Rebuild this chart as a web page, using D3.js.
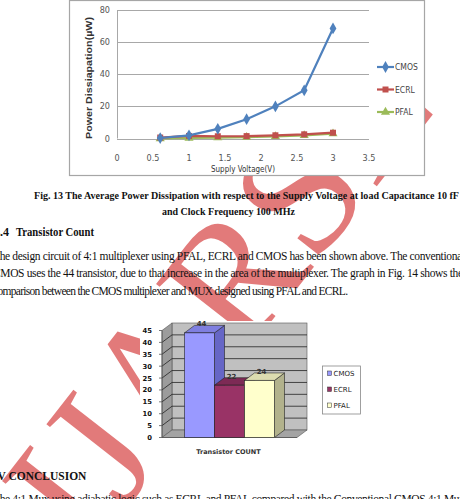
<!DOCTYPE html>
<html lang="en">
<head>
<meta charset="UTF-8">
<title>Fig 13 / Fig 14</title>
<script src="https://cdn.jsdelivr.net/npm/d3@7"></script>
<style>
  body { margin: 0; background: white; }
  svg { display: block; }
  .serif { font-family: "Liberation Serif", "Times New Roman", serif; fill: #111; }
  .cond { font-family: "DejaVu Sans Condensed", "DejaVu Sans", sans-serif; font-stretch: condensed; fill: #555; }
  .tah { font-family: "DejaVu Sans", Verdana, sans-serif; fill: #111; }
</style>
</head>
<body>
<svg id="page" width="460" height="499"></svg>
<script>
// ---- Fig. 13 data (power vs supply voltage) ----
const voltage = [0.6, 1, 1.4, 1.8, 2.2, 2.6, 3];
const cmos = [0.3, 2, 6, 12, 20, 30, 68.5];
const ecrl = [0.6, 1.6, 1.4, 1.5, 2, 2.6, 3.6];
const pfal = [0, 0.3, 0.5, 0.8, 1.3, 1.9, 3];
const xTicks = [0, 0.5, 1, 1.5, 2, 2.5, 3, 3.5];
const yTicks = [0, 20, 40, 60, 80];

// ---- Fig. 14 data (transistor count) ----
const techs = ["CMOS", "ECRL", "PFAL"];
const counts = [44, 22, 24];
const countTicks = [0, 5, 10, 15, 20, 25, 30, 35, 40, 45];

// ---- page text ----
const caption = ["Fig. 13 The Average Power Dissipation with respect to the Supply Voltage at load Capacitance 10 fF",
                 "and Clock Frequency 100 MHz"];
const para = ["The design circuit of 4:1 multiplexer using PFAL, ECRL and CMOS has been shown above. The conventional",
              "CMOS uses the 44 transistor, due to that increase in the area of the multiplexer. The graph in Fig. 14 shows the",
              "comparison between the CMOS multiplexer and MUX designed using PFAL and ECRL."];
const lastLine = "The 4:1 Mux using adiabatic logic such as ECRL and PFAL compared with the Conventional CMOS 4:1 Mux";

const svg = d3.select("#page");

// ================= watermark (sits under text and figures) =================
svg.append("text").attr("transform", "translate(88,556) rotate(-52)")
  .attr("font-family", "Liberation Serif, serif").attr("font-size", 174)
  .attr("fill", "rgb(210,50,50)").attr("fill-opacity", 0.65).text("IJARSE");

// ================= line chart =================
const fig13 = svg.append("g");
fig13.append("rect").attr("x", 69.5).attr("y", 0.5).attr("width", 355).attr("height", 175)
  .attr("fill", "white").attr("stroke", "#a6a6a6").attr("stroke-width", 1.2);

const x = d3.scaleLinear([0, 3.5], [117, 369]);
const y = d3.scaleLinear([0, 80], [138.5, 10]);

fig13.append("g").selectAll("line").data(yTicks).join("line")
  .attr("x1", x(0)).attr("x2", x(3.5))
  .attr("y1", d => Math.round(y(d)) + 0.5).attr("y2", d => Math.round(y(d)) + 0.5)
  .attr("stroke", "#a8a8a8");
fig13.append("line").attr("x1", x(0) + 0.5).attr("x2", x(0) + 0.5).attr("y1", y(80)).attr("y2", y(0))
  .attr("stroke", "#a8a8a8");

fig13.append("g").selectAll("text").data(yTicks).join("text").attr("class", "cond")
  .attr("x", 110).attr("y", d => y(d) + 3).attr("text-anchor", "end").attr("font-size", 9)
  .text(d => d);
fig13.append("g").selectAll("text").data(xTicks).join("text").attr("class", "cond")
  .attr("x", d => x(d)).attr("y", 161).attr("text-anchor", "middle").attr("font-size", 9)
  .text(d => d);

fig13.append("text").attr("class", "cond").attr("x", 243).attr("y", 172).attr("text-anchor", "middle")
  .attr("font-size", 9).attr("textLength", 64).attr("lengthAdjust", "spacingAndGlyphs")
  .style("fill", "#333").text("Supply Voltage(V)");
fig13.append("text").attr("transform", "translate(92,78) rotate(-90)").attr("text-anchor", "middle")
  .attr("font-family", "Liberation Sans, Arial, sans-serif").attr("font-weight", "bold").attr("font-size", 9)
  .attr("textLength", 122).attr("lengthAdjust", "spacingAndGlyphs").attr("fill", "#333")
  .text("Power Dissiapation(\u00b5W)");

const series = [
  { name: "CMOS", vals: cmos, color: "#4f81bd", shape: d3.symbolDiamond, size: 40 },
  { name: "ECRL", vals: ecrl, color: "#c0504d", shape: d3.symbolSquare, size: 36 },
  { name: "PFAL", vals: pfal, color: "#9bbb59", shape: d3.symbolTriangle, size: 36 }
];
const line = d3.line().x((d, i) => x(voltage[i])).y(d => y(d));

series.slice().reverse().forEach(s => {
  fig13.append("path").attr("d", line(s.vals)).attr("fill", "none")
    .attr("stroke", s.color).attr("stroke-width", 2.2);
  fig13.append("g").selectAll("path").data(s.vals).join("path")
    .attr("transform", (d, i) => `translate(${x(voltage[i])},${y(d)})`)
    .attr("d", d3.symbol(s.shape, s.size)).attr("fill", s.color);
});

series.forEach((s, i) => {
  const ly = 67 + i * 22.5;
  fig13.append("line").attr("x1", 377).attr("x2", 394).attr("y1", ly).attr("y2", ly)
    .attr("stroke", s.color).attr("stroke-width", 2.2);
  fig13.append("path").attr("transform", `translate(385.5,${ly})`)
    .attr("d", d3.symbol(s.shape, s.size)).attr("fill", s.color);
  fig13.append("text").attr("class", "cond").attr("x", 395).attr("y", ly + 3).attr("font-size", 8.5)
    .style("fill", "#444").text(s.name);
});

// ================= page text =================
svg.append("text").attr("class", "serif").attr("x", 34).attr("y", 198.5).attr("font-weight", "bold")
  .attr("font-size", 10.5).attr("textLength", 425).attr("lengthAdjust", "spacingAndGlyphs").text(caption[0]);
svg.append("text").attr("class", "serif").attr("x", 228.5).attr("y", 214.5).attr("font-weight", "bold")
  .attr("font-size", 10.5).attr("text-anchor", "middle").attr("textLength", 133)
  .attr("lengthAdjust", "spacingAndGlyphs").text(caption[1]);

svg.append("text").attr("class", "serif").attr("x", 9).attr("y", 236).attr("font-weight", "bold")
  .attr("font-size", 12).attr("text-anchor", "end").text("4.4");
svg.append("text").attr("class", "serif").attr("x", 16).attr("y", 236).attr("font-weight", "bold")
  .attr("font-size", 12).attr("textLength", 78).attr("lengthAdjust", "spacingAndGlyphs").text("Transistor Count");

const paraW = [472, 470, 355];
svg.append("g").selectAll("text").data(para).join("text").attr("class", "serif")
  .attr("x", -7).attr("y", (d, i) => 259.5 + i * 17.5).attr("font-size", 11.5)
  .attr("textLength", (d, i) => paraW[i]).attr("lengthAdjust", "spacing").text(d => d);

svg.append("text").attr("class", "serif").attr("x", -7).attr("y", 480).attr("font-weight", "bold")
  .attr("font-size", 11.5).text("IV CONCLUSION");
svg.append("text").attr("class", "serif").attr("x", -7).attr("y", 503).attr("font-size", 11.5)
  .attr("textLength", 472).attr("lengthAdjust", "spacing").text(lastLine);

// ================= 3D bar chart =================
const bar = svg.append("g");
bar.append("rect").attr("x", 140).attr("y", 321).attr("width", 232).attr("height", 141).attr("fill", "white");
const dx = 10, dy = -7.5;
const yb = d3.scaleLinear([0, 45], [437.5, 330.5]);
const xb = d3.scaleBand(techs, [162, 297]).paddingInner(0).paddingOuter(0.75);
const bx0 = 162, bx1 = 297;
const poly = pts => "M" + pts.map(p => p.join(",")).join("L") + "Z";

// back wall, left wall, floor
bar.append("rect").attr("x", bx0 + dx).attr("y", yb(45) + dy).attr("width", bx1 - bx0)
  .attr("height", yb(0) - yb(45)).attr("fill", "#c0c0c0").attr("stroke", "#555").attr("stroke-width", 0.6);
bar.append("path").attr("d", poly([[bx0, yb(45)], [bx0 + dx, yb(45) + dy], [bx0 + dx, yb(0) + dy], [bx0, yb(0)]]))
  .attr("fill", "#9c9c9c").attr("stroke", "#555").attr("stroke-width", 0.6);
bar.append("path").attr("d", poly([[bx0, yb(0)], [bx0 + dx, yb(0) + dy], [bx1 + dx, yb(0) + dy], [bx1, yb(0)]]))
  .attr("fill", "#a4a4a4").attr("stroke", "#555").attr("stroke-width", 0.6);

// gridlines on walls
bar.append("g").selectAll("path").data(countTicks.slice(1, -1)).join("path")
  .attr("d", d => `M${bx0},${yb(d)}L${bx0 + dx},${yb(d) + dy}L${bx1 + dx},${yb(d) + dy}`)
  .attr("fill", "none").attr("stroke", "#222").attr("stroke-width", 0.8);

// axis + ticks
bar.append("line").attr("x1", bx0).attr("x2", bx0).attr("y1", yb(45)).attr("y2", yb(0))
  .attr("stroke", "#555").attr("stroke-width", 0.8);
bar.append("line").attr("x1", bx0).attr("x2", bx1).attr("y1", yb(0)).attr("y2", yb(0))
  .attr("stroke", "#555").attr("stroke-width", 0.8);
bar.append("g").selectAll("line").data(countTicks).join("line")
  .attr("x1", bx0 - 3).attr("x2", bx0).attr("y1", d => yb(d)).attr("y2", d => yb(d))
  .attr("stroke", "#555").attr("stroke-width", 0.8);
bar.append("g").selectAll("text").data(countTicks).join("text").attr("class", "tah")
  .attr("x", 152).attr("y", d => yb(d) + 2.5).attr("text-anchor", "end")
  .attr("font-size", 6.8).attr("font-weight", "bold").text(d => d);

const faces = {
  CMOS: ["#9999ff", "#6666c6", "#7f7fe0"],
  ECRL: ["#993366", "#70244a", "#7d2a55"],
  PFAL: ["#ffffcc", "#b2b28c", "#dcdcb0"]
};
techs.forEach((t, i) => {
  const a = xb(t), b = a + xb.bandwidth(), h = yb(counts[i]), g0 = yb(0);
  const [front, side, topc] = faces[t];
  bar.append("path").attr("d", poly([[b, h], [b + dx, h + dy], [b + dx, g0 + dy], [b, g0]]))
    .attr("fill", side).attr("stroke", "#222").attr("stroke-width", 0.6);
  bar.append("path").attr("d", poly([[a, h], [a + dx, h + dy], [b + dx, h + dy], [b, h]]))
    .attr("fill", topc).attr("stroke", "#222").attr("stroke-width", 0.6);
  bar.append("rect").attr("x", a).attr("y", h).attr("width", b - a).attr("height", g0 - h)
    .attr("fill", front).attr("stroke", "#222").attr("stroke-width", 0.6);
  bar.append("text").attr("class", "tah").attr("x", (a + b) / 2 + 2).attr("y", h - 6.5)
    .attr("text-anchor", "middle").attr("font-size", 7).attr("font-weight", "bold")
    .style("fill", "#333").text(counts[i]);
});

bar.append("text").attr("class", "tah").attr("x", 228.5).attr("y", 454).attr("text-anchor", "middle")
  .attr("font-size", 6.5).attr("font-weight", "bold").style("fill", "#333").text("Transistor COUNT");

// legend
bar.append("rect").attr("x", 322.5).attr("y", 366).attr("width", 38).attr("height", 48)
  .attr("fill", "white").attr("stroke", "#888").attr("stroke-width", 0.8);
techs.forEach((t, i) => {
  const ly = 373.5 + i * 16;
  bar.append("rect").attr("x", 327.5).attr("y", ly - 2.5).attr("width", 4).attr("height", 4.5)
    .attr("fill", faces[t][0]).attr("stroke", "#333").attr("stroke-width", 0.5);
  bar.append("text").attr("class", "tah").attr("x", 333.5).attr("y", ly + 2.5)
    .attr("font-size", 7).style("fill", "#222").text(t);
});
</script>
</body>
</html>
